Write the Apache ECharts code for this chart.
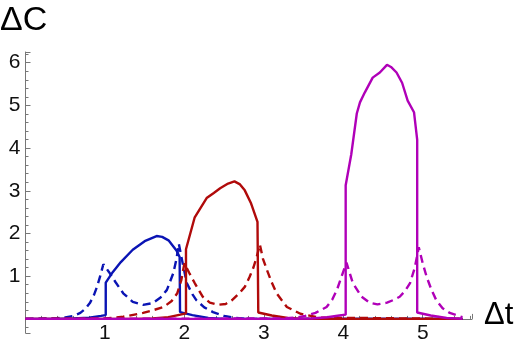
<!DOCTYPE html>
<html><head><meta charset="utf-8">
<script src="https://cdn.jsdelivr.net/npm/echarts@6/dist/echarts.min.js"></script>
<style>html,body{margin:0;padding:0;background:#fff}#c{width:518px;height:347px}</style>
</head><body><div id="c"></div>
<script>
var xTickLabels = ['1','2','3','4','5'];
var yTickLabels = ['1','2','3','4','5','6'];

var blueSolidX = [0, 0.4, 0.6, 0.8, 0.95, 1.01, 1.01, 1.1, 1.2, 1.35, 1.5, 1.65, 1.72, 1.8, 1.9, 1.94, 1.945, 2.1, 2.3, 2.5, 5.5];
var blueSolidY = [0, 0, 0.01, 0.03, 0.07, 0.09, 0.85, 1.1, 1.33, 1.62, 1.82, 1.94, 1.92, 1.84, 1.6, 1.45, 0.16, 0.09, 0.02, 0, 0];

var blueDashX = [0, 0.3, 0.4, 0.5, 0.6, 0.69, 0.75, 0.81, 0.86, 0.9, 0.94, 0.98, 1.05, 1.13, 1.23, 1.35, 1.48, 1.6, 1.7, 1.78, 1.86, 1.9, 1.93, 1.97, 2.03, 2.1, 2.15, 2.25, 2.36, 2.5, 2.62, 2.8, 5.5];
var blueDashY = [0, 0.01, 0.017, 0.035, 0.07, 0.14, 0.23, 0.37, 0.55, 0.75, 1.0, 1.28, 1.1, 0.87, 0.6, 0.4, 0.33, 0.37, 0.5, 0.68, 1.07, 1.4, 1.76, 1.38, 0.84, 0.58, 0.44, 0.27, 0.16, 0.07, 0.03, 0, 0];

var redSolidX = [0, 1.4, 1.6, 1.8, 1.95, 2.02, 2.02, 2.13, 2.28, 2.37, 2.45, 2.55, 2.63, 2.7, 2.76, 2.84, 2.92, 2.93, 2.93, 3.1, 3.3, 3.5, 5.5];
var redSolidY = [0, 0, 0.01, 0.04, 0.1, 0.13, 1.63, 2.38, 2.83, 2.95, 3.06, 3.17, 3.22, 3.15, 3.01, 2.7, 2.27, 2.25, 0.15, 0.08, 0.02, 0, 0];

var redDashX = [0, 1.0, 1.23, 1.48, 1.6, 1.74, 1.84, 1.91, 1.96, 2.0, 2.06, 2.13, 2.23, 2.32, 2.42, 2.52, 2.6, 2.7, 2.76, 2.82, 2.87, 2.91, 2.95, 2.99, 3.04, 3.1, 3.16, 3.29, 3.46, 3.7, 5.5];
var redDashY = [0, 0.01, 0.05, 0.14, 0.2, 0.28, 0.42, 0.6, 0.9, 1.3, 1.08, 0.84, 0.52, 0.38, 0.33, 0.35, 0.44, 0.62, 0.75, 0.98, 1.21, 1.45, 1.74, 1.4, 1.14, 0.85, 0.6, 0.28, 0.12, 0.03, 0];

var magSolidX = [0, 3.3, 3.6, 3.8, 3.95, 4.03, 4.03, 4.1, 4.17, 4.21, 4.27, 4.37, 4.46, 4.55, 4.6, 4.67, 4.74, 4.81, 4.89, 4.93, 4.93, 5.1, 5.3, 5.5];
var magSolidY = [0, 0, 0.01, 0.04, 0.08, 0.1, 3.13, 3.85, 4.81, 5.07, 5.3, 5.65, 5.77, 5.95, 5.9, 5.77, 5.53, 5.11, 4.84, 4.2, 0.15, 0.08, 0.02, 0];

var magDashX = [0, 3.2, 3.4, 3.52, 3.65, 3.79, 3.86, 3.92, 3.98, 4.04, 4.12, 4.23, 4.33, 4.43, 4.55, 4.64, 4.71, 4.78, 4.84, 4.9, 4.95, 5.0, 5.05, 5.11, 5.17, 5.25, 5.34, 5.5];
var magDashY = [0, 0.01, 0.03, 0.07, 0.14, 0.28, 0.45, 0.68, 1.0, 1.32, 0.84, 0.52, 0.38, 0.34, 0.38, 0.45, 0.52, 0.66, 0.84, 1.2, 1.68, 1.3, 0.98, 0.68, 0.44, 0.25, 0.14, 0.04];

function pairs(xs, ys){ return xs.map(function(x,i){ return [x, ys[i]]; }); }
var FONT = "'Liberation Sans', Arial, sans-serif";
var BLUE = '#0a14b4', RED = '#b00a0a', MAG = '#b000b8';

function line(name, xs, ys, color, dashed){
  return { name: name, type: 'line', data: pairs(xs, ys), showSymbol: false, symbol: 'none',
    lineStyle: { color: color, width: 2.4, type: dashed ? [8,5] : 'solid' }, silent: true };
}

var chart = echarts.init(document.getElementById('c'), null, {renderer: 'canvas'});
chart.setOption({
  animation: false,
  grid: { left: 25.5, right: 46, top: 52, bottom: 14, containLabel: false, outerBoundsMode: 'none' },
  xAxis: {
    type: 'value', min: 0, max: 5.62, interval: 1,
    axisLine: { onZero: true, lineStyle: { color: '#777', width: 1 } },
    axisTick: { inside: true, length: 5, lineStyle: { color: '#777' } },
    minorTick: { show: true, splitNumber: 5, length: 3, lineStyle: { color: '#777' } },
    splitLine: { show: false },
    axisLabel: { color: '#111', fontSize: 21, fontFamily: FONT, margin: -10, showMinLabel: false, showMaxLabel: false,
      formatter: function(v){ var i = xTickLabels.indexOf(String(v)); return i >= 0 ? xTickLabels[i] : ''; } }
  },
  yAxis: {
    type: 'value', min: -0.33, max: 6.25, splitNumber: 6,
    axisLine: { show: true, onZero: false, lineStyle: { color: '#777', width: 1 } },
    axisTick: { show: true, inside: true, length: 5, lineStyle: { color: '#777' } },
    minorTick: { show: true, splitNumber: 5, length: 3, lineStyle: { color: '#777' } },
    splitLine: { show: false },
    axisLabel: { color: '#111', fontSize: 21, fontFamily: FONT, margin: 5, showMinLabel: false, showMaxLabel: false,
      formatter: function(v){ var i = yTickLabels.indexOf(String(v)); return i >= 0 ? yTickLabels[i] : ''; } }
  },
  graphic: [
    { type: 'text', left: 0, top: 4, style: { text: 'ΔC', font: '34px ' + FONT, fill: '#000' } },
    { type: 'text', left: 484, top: 300, style: { text: 'Δt', font: '31px ' + FONT, fill: '#000' } }
  ],
  series: [
    line('blueSolid', blueSolidX, blueSolidY, BLUE, false),
    line('blueDash', blueDashX, blueDashY, BLUE, true),
    line('redSolid', redSolidX, redSolidY, RED, false),
    line('redDash', redDashX, redDashY, RED, true),
    line('magSolid', magSolidX, magSolidY, MAG, false),
    line('magDash', magDashX, magDashY, MAG, true)
  ]
});
</script></body></html>
